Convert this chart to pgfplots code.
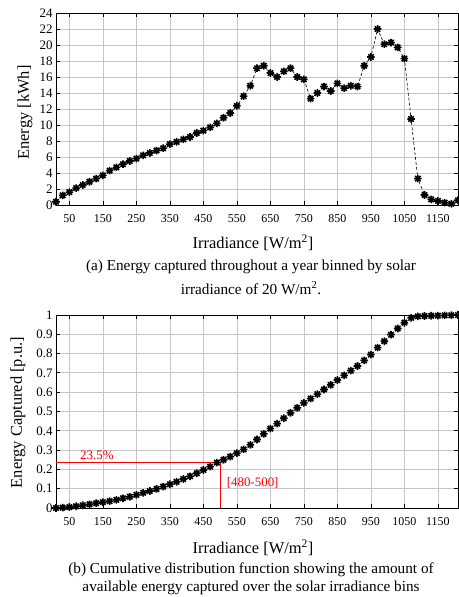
\documentclass[border=0pt]{standalone}
\usepackage{fontspec}
\setmainfont{Liberation Serif}
\usepackage{pgfplots}
\pgfplotsset{compat=1.18}
\usepackage{pgfplotstable}

\pgfdeclareplotmark{gstar}{%
 \pgfpathmoveto{\pgfqpoint{-\pgfplotmarksize}{0pt}}\pgfpathlineto{\pgfqpoint{\pgfplotmarksize}{0pt}}%
 \pgfpathmoveto{\pgfqpoint{0pt}{-\pgfplotmarksize}}\pgfpathlineto{\pgfqpoint{0pt}{\pgfplotmarksize}}%
 \pgfpathmoveto{\pgfqpoint{-.707\pgfplotmarksize}{-.707\pgfplotmarksize}}\pgfpathlineto{\pgfqpoint{.707\pgfplotmarksize}{.707\pgfplotmarksize}}%
 \pgfpathmoveto{\pgfqpoint{-.707\pgfplotmarksize}{.707\pgfplotmarksize}}\pgfpathlineto{\pgfqpoint{.707\pgfplotmarksize}{-.707\pgfplotmarksize}}%
 \pgfusepathqstroke}

\pgfplotstableread{
x y
10 0.4
30 1.2
50 1.6
70 2.1
90 2.5
110 2.9
130 3.3
150 3.7
170 4.3
190 4.7
210 5.1
230 5.5
250 5.8
270 6.2
290 6.5
310 6.8
330 7.1
350 7.6
370 7.9
390 8.2
410 8.5
430 9.0
450 9.3
470 9.7
490 10.2
510 10.9
530 11.5
550 12.4
570 13.6
590 14.9
610 17.1
630 17.4
650 16.5
670 16.0
690 16.7
710 17.1
730 16.0
750 15.7
770 13.3
790 14.0
810 14.8
830 14.25
850 15.2
870 14.6
890 14.9
910 14.8
930 17.4
950 18.5
970 22.0
990 20.1
1010 20.3
1030 19.7
1050 18.3
1070 10.75
1090 3.3
1110 1.25
1130 0.7
1150 0.5
1170 0.3
1190 0.15
1210 0.6
}\energytable

\pgfplotstableread{
x y
10 0.000
30 0.002
50 0.005
70 0.009
90 0.014
110 0.019
130 0.025
150 0.030
170 0.036
190 0.042
210 0.050
230 0.058
250 0.068
270 0.078
290 0.088
310 0.099
330 0.111
350 0.123
370 0.136
390 0.150
410 0.164
430 0.180
450 0.197
470 0.214
490 0.235
510 0.250
530 0.266
550 0.284
570 0.304
590 0.327
610 0.355
630 0.384
650 0.411
670 0.437
690 0.465
710 0.493
730 0.519
750 0.545
770 0.567
790 0.590
810 0.614
830 0.638
850 0.663
870 0.687
890 0.712
910 0.736
930 0.765
950 0.795
970 0.831
990 0.864
1010 0.898
1030 0.930
1050 0.960
1070 0.985
1090 0.993
1110 0.995
1130 0.996
1150 0.997
1170 0.998
1190 0.999
1210 1.000
}\cdftable

\pgfplotsset{
  mystyle/.style={
    scale only axis,
    anchor=south west,
    width=402bp,
    xmin=10, xmax=1210,
    xtick={50,150,...,1150},
    tick align=inside,
    major tick length=4bp,
    grid=major,
    grid style={gray!45, line width=0.8bp},
    axis line style={black, line width=0.8bp},
    tick style={black, line width=0.8bp},
    /pgf/number format/1000 sep={},
    /pgf/number format/assume math mode=true,
    xticklabel style={font=\fontsize{12}{13}\selectfont, yshift=-6bp},
    yticklabel style={font=\fontsize{13}{14}\selectfont},
  }
}

\begin{document}
\begin{tikzpicture}
\useasboundingbox (0,0) rectangle (459bp,597bp);

\begin{axis}[mystyle, at={(56bp,392bp)}, height=192bp,
  ymin=0, ymax=24, ytick={0,2,...,24}]
\addplot[black, densely dashed, line width=0.6bp, mark=gstar, mark size=3.8bp,
  mark options={solid, line width=1.6bp}] table[x=x,y=y] {\energytable};
\end{axis}

\begin{axis}[mystyle, at={(56bp,89bp)}, height=193bp,
  ymin=0, ymax=1, ytick={0,0.1,0.2,0.3,0.4,0.5,0.6,0.7,0.8,0.9,1},
  yticklabels={0,0.1,0.2,0.3,0.4,0.5,0.6,0.7,0.8,0.9,1}]
\addplot[red, line width=0.8bp, no marks] coordinates {(10,0.235) (500,0.235) (500,0)};
\addplot[black, only marks, mark=gstar, mark size=3.8bp,
  mark options={line width=1.6bp}] table[x=x,y=y] {\cdftable};
\node[red, font=\fontsize{13}{14}\selectfont] at (axis cs:132,0.272) {23.5\%};
\node[red, font=\fontsize{13}{14}\selectfont] at (axis cs:597,0.131) {[480-500]};
\end{axis}

\node[rotate=90, font=\fontsize{16.5}{18}\selectfont] at (25bp,484.5bp) {Energy [kWh]};
\node[font=\fontsize{16.5}{18}\selectfont] at (253bp,354bp) {Irradiance [W/m\textsuperscript{2}]};
\node[font=\fontsize{15.3}{17}\selectfont] at (251bp,330bp) {(a) Energy captured throughout a year binned by solar};
\node[font=\fontsize{15.3}{17}\selectfont] at (251bp,309bp) {irradiance of 20 W/m\textsuperscript{2}.};

\node[rotate=90, font=\fontsize{16.5}{18}\selectfont] at (18bp,184.5bp) {Energy Captured [p.u.]};
\node[font=\fontsize{16.5}{18}\selectfont] at (253bp,49bp) {Irradiance [W/m\textsuperscript{2}]};
\node[font=\fontsize{15.3}{17}\selectfont] at (251bp,27bp) {(b) Cumulative distribution function showing the amount of};
\node[font=\fontsize{15.3}{17}\selectfont] at (251bp,9bp) {available energy captured over the solar irradiance bins};
\end{tikzpicture}
\end{document}
